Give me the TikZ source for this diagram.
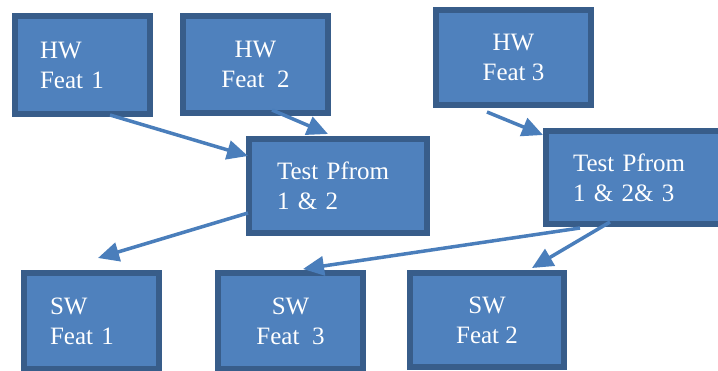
\documentclass[tikz,border=0pt]{standalone}
\usepackage{fontspec}
\setmainfont{Liberation Serif}
\usetikzlibrary{arrows.meta,calc}

\definecolor{boxfill}{HTML}{4F81BD}
\definecolor{boxline}{HTML}{385D8A}
\definecolor{linkcol}{HTML}{4A7EBB}

\begin{document}
\begin{tikzpicture}[x=1pt,y=-1pt,
  box/.style={draw=boxline, fill=boxfill, line width=6pt, inner sep=0pt,
              text=white, font=\fontsize{25}{30}\selectfont},
  cbox/.style={box, align=center},
  lbox/.style={box, align=left},
  link/.style={draw=linkcol, line width=3.5pt,
               -{Triangle[length=21pt,width=19pt]}}]

\useasboundingbox (0,0) rectangle (718,371);
\clip (0,0) rectangle (718,371);

% hardware features
\node[lbox, text width=85pt, inner xsep=25pt, minimum height=98pt] (hw1) at (82.5,65) {HW\\Feat 1};
\node[cbox, minimum width=145pt, minimum height=97pt] (hw2) at (255.5,64.5) {HW\\Feat~~2};
\node[cbox, minimum width=155pt, minimum height=95pt] (hw3) at (513.5,57.5) {HW\\Feat 3};

% test platforms
\node[lbox, text width=122pt, inner xsep=28pt, minimum height=94pt] (t12) at (338,186) {Test~Pfrom\\1 \& 2};
\node[lbox, text width=126pt, inner xsep=27pt, minimum height=93pt] (t123) at (636,177.5) {Test~Pfrom\\1 \& 2\& 3};

% software features
\node[lbox, text width=83pt, inner xsep=26pt, minimum height=96pt] (sw1) at (91.5,321) {SW\\Feat 1};
\node[cbox, minimum width=145pt, minimum height=96pt] (sw3) at (290.5,321) {SW\\Feat~~3};
\node[cbox, minimum width=154pt, minimum height=94pt] (sw2) at (487,320) {SW\\Feat 2};

% dependencies
\draw[link] ($(hw1.south west)+(98,-2)$) -- ($(t12.north west)+(2,20)$);
\draw[link] ($(hw2.south west)+(92,-6)$) -- ($(t12.north west)+(82,-2)$);
\draw[link] ($(hw3.south west)+(54,4)$) -- ($(t123.north west)+(0,7)$);
\draw[link] ($(t12.south west)+(2,-23)$) -- ($(sw1.north west)+(77,-12)$);
\draw[link] ($(t123.south west)+(37,1)$) -- ($(sw3.north west)+(88,-1)$);
\draw[link] ($(t123.south west)+(67,-5)$) -- ($(sw2.north west)+(125,-2)$);
\end{tikzpicture}
\end{document}
